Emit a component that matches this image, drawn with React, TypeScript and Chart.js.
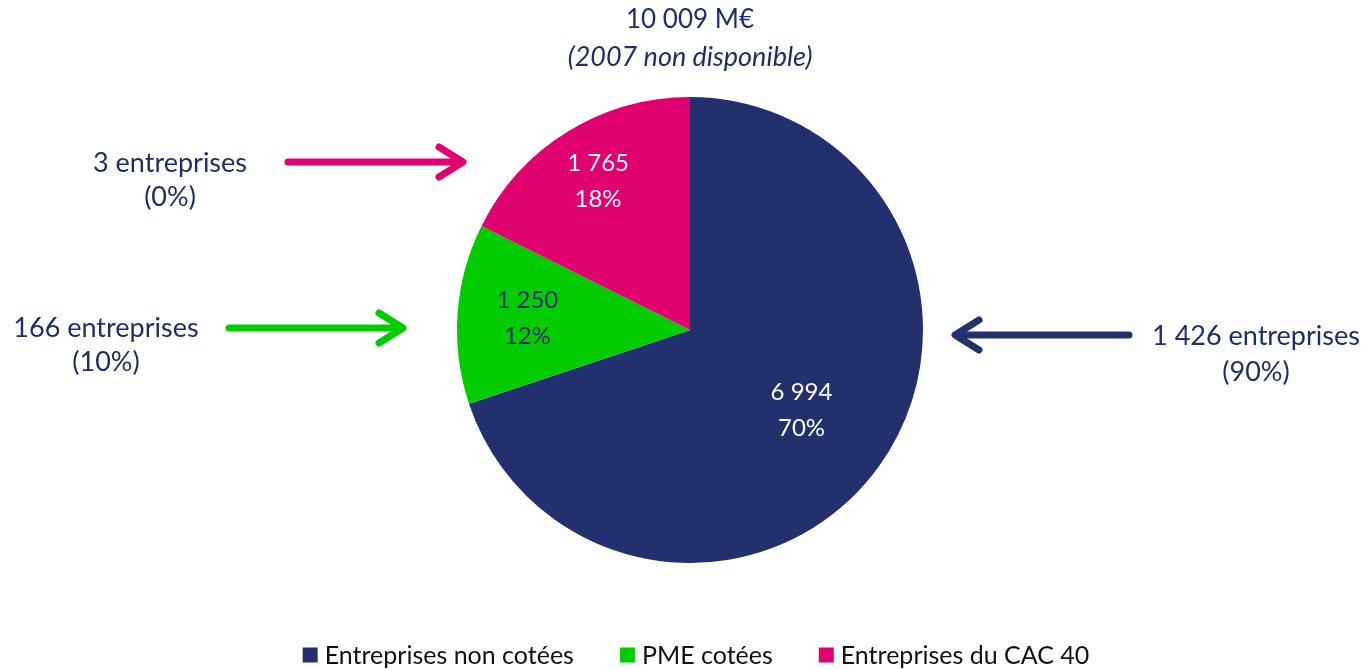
import React, { useEffect, useRef } from "react";
import { Chart, registerables } from "chart.js";

Chart.register(...registerables);

const categories = ["Entreprises non cotées", "PME cotées", "Entreprises du CAC 40"];
const values = [6994, 1250, 1765];
const shares = ["70%", "12%", "18%"];
const valueLabels = ["6 994", "1 250", "1 765"];
const companyLabels = ["1 426 entreprises", "166 entreprises", "3 entreprises"];
const companyShares = ["(90%)", "(10%)", "(0%)"];
const totalLabel = "10 009 M€";
const subtitleLabel = "(2007 non disponible)";

const COLORS = ["#22306E", "#00CC00", "#E0006F"];
const TEXT = "#1C2F6B";
const FONT = "Lato, 'Open Sans', sans-serif";

const sliceLabelPlugin = {
  id: "sliceLabels",
  afterDatasetsDraw(chart: any) {
    const meta = chart.getDatasetMeta(0);
    const ctx = chart.ctx;
    const factors = [0.59, 0.7, 0.75];
    const textColors = ["#FFFFFF", TEXT, "#FFFFFF"];
    ctx.save();
    ctx.font = `24px ${FONT}`;
    ctx.textAlign = "center";
    ctx.textBaseline = "middle";
    meta.data.forEach((arc: any, i: number) => {
      const p = arc.getProps(["x", "y", "startAngle", "endAngle", "outerRadius"], true);
      const mid = (p.startAngle + p.endAngle) / 2;
      const r = p.outerRadius * factors[i];
      const x = p.x + Math.cos(mid) * r;
      const y = p.y + Math.sin(mid) * r;
      ctx.fillStyle = textColors[i];
      ctx.fillText(valueLabels[i], x, y - 18);
      ctx.fillText(shares[i], x, y + 18);
    });
    ctx.restore();
  },
};

function drawArrow(ctx: CanvasRenderingContext2D, x1: number, x2: number, y: number, color: string) {
  const dir = Math.sign(x2 - x1);
  ctx.save();
  ctx.strokeStyle = color;
  ctx.lineWidth = 7;
  ctx.lineCap = "round";
  ctx.lineJoin = "round";
  ctx.beginPath();
  ctx.moveTo(x1, y);
  ctx.lineTo(x2 - dir * 3, y);
  ctx.stroke();
  ctx.beginPath();
  ctx.moveTo(x2 - dir * 24, y - 15);
  ctx.lineTo(x2, y);
  ctx.lineTo(x2 - dir * 24, y + 15);
  ctx.stroke();
  ctx.restore();
}

const annotationPlugin = {
  id: "annotations",
  afterDraw(chart: any) {
    const ctx = chart.ctx;
    const meta = chart.getDatasetMeta(0);
    const arc = meta.data[0];
    const cx = arc.x;
    const cy = arc.y;
    const R = arc.outerRadius;
    ctx.save();
    ctx.fillStyle = TEXT;
    ctx.textAlign = "center";
    ctx.textBaseline = "middle";
    ctx.font = `26px ${FONT}`;
    ctx.fillText(totalLabel, cx, cy - R - 77);
    ctx.font = `italic 27px ${FONT}`;
    ctx.fillText(subtitleLabel, cx, cy - R - 40);

    ctx.font = `27px ${FONT}`;
    // CAC 40
    ctx.fillText(companyLabels[2], 170, cy - 167);
    ctx.fillText(companyShares[2], 170, cy - 133);
    drawArrow(ctx, 288, 463, cy - 168, COLORS[2]);
    // PME
    ctx.fillText(companyLabels[1], 106, cy - 2);
    ctx.fillText(companyShares[1], 106, cy + 32);
    drawArrow(ctx, 229, 403, cy - 2, COLORS[1]);
    // non cotées
    ctx.fillText(companyLabels[0], 1256, cy + 6);
    ctx.fillText(companyShares[0], 1256, cy + 42);
    drawArrow(ctx, 1129, 955, cy + 5, COLORS[0]);

    // legend
    ctx.font = `25px ${FONT}`;
    ctx.textAlign = "left";
    const box = 15;
    const gapBoxText = 7;
    const gapItems = 46;
    const widths = categories.map((c) => ctx.measureText(c).width);
    const total = widths.reduce((a, w) => a + box + gapBoxText + w, 0) + gapItems * (categories.length - 1);
    let x = 696 - total / 2;
    const ly = 655;
    categories.forEach((c, i) => {
      ctx.fillStyle = COLORS[i];
      ctx.fillRect(x, ly - box / 2, box, box);
      ctx.fillStyle = "#111111";
      ctx.fillText(c, x + box + gapBoxText, ly + 1);
      x += box + gapBoxText + widths[i] + gapItems;
    });
    ctx.restore();
  },
};

export default function App() {
  const ref = useRef<HTMLCanvasElement>(null);
  useEffect(() => {
    const chart = new Chart(ref.current as HTMLCanvasElement, {
      type: "pie",
      data: {
        labels: categories,
        datasets: [
          {
            data: values,
            backgroundColor: COLORS,
            borderWidth: 0,
            radius: 233,
          } as any,
        ],
      },
      options: {
        animation: false,
        responsive: true,
        maintainAspectRatio: false,
        layout: { padding: { top: 26, left: 14, right: 0, bottom: 35 } },
        plugins: {
          tooltip: { enabled: false },
          legend: { display: false },
        },
      },
      plugins: [sliceLabelPlugin, annotationPlugin],
    });
    return () => chart.destroy();
  }, []);
  return (
    <div style={{ position: "fixed", left: 0, top: 0, width: "100vw", height: "100vh", background: "#fff" }}>
      <canvas ref={ref} />
    </div>
  );
}
